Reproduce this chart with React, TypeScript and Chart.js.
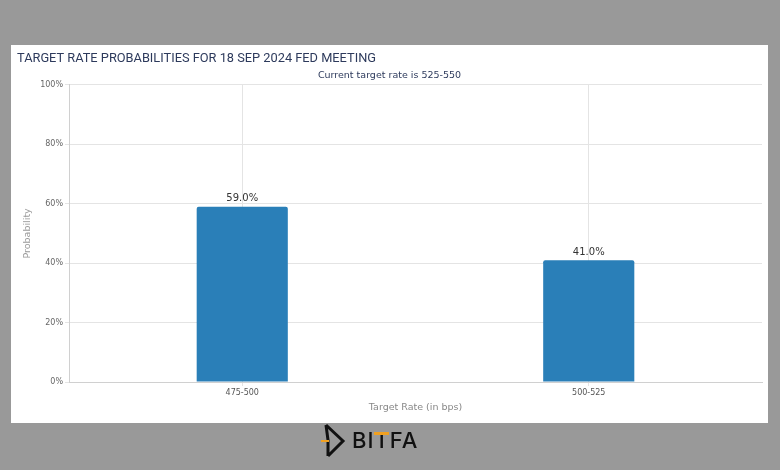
import React, { useEffect, useRef } from "react";
import { Chart, registerables } from "chart.js";

Chart.register(...registerables);

const categories = ["475-500", "500-525"];
const probabilities = [59.0, 41.0];
const yTicks = [0, 20, 40, 60, 80, 100];
const titleText = "TARGET RATE PROBABILITIES FOR 18 SEP 2024 FED MEETING";
const subtitleText = "Current target rate is 525-550";
const xTitle = "Target Rate (in bps)";
const yTitle = "Probability";

const FONT = "'DejaVu Sans', 'Liberation Sans', sans-serif";

const labelPlugin = {
  id: "barLabels",
  afterDatasetsDraw(chart: any) {
    const ctx = chart.ctx;
    const meta = chart.getDatasetMeta(0);
    ctx.save();
    ctx.font = `10px ${FONT}`;
    ctx.fillStyle = "#333333";
    ctx.textAlign = "center";
    ctx.textBaseline = "bottom";
    meta.data.forEach((bar: any, i: number) => {
      const v = chart.data.datasets[0].data[i] as number;
      ctx.fillText(v.toFixed(1) + "%", bar.x, bar.y - 3);
    });
    ctx.restore();
  },
};

export default function App() {
  const ref = useRef<HTMLCanvasElement | null>(null);

  useEffect(() => {
    if (!ref.current) return;
    const chart = new Chart(ref.current, {
      type: "bar",
      data: {
        labels: categories,
        datasets: [
          {
            data: probabilities,
            backgroundColor: "#2a7fb8",
            borderRadius: 2,
            borderSkipped: "bottom",
            barPercentage: 0.263,
            categoryPercentage: 1,
          },
        ],
      },
      options: {
        animation: false,
        responsive: false,
        maintainAspectRatio: false,
        layout: { padding: { left: 6, right: 6, top: 0, bottom: 10 } },
        plugins: {
          legend: { display: false },
          tooltip: { enabled: false },
          title: {
            display: true,
            text: titleText,
            align: "start",
            color: "#2d3a5c",
            font: { family: "Roboto, 'Liberation Sans', sans-serif", size: 12.8, weight: "normal" },
            padding: { top: 6, bottom: 3 },
          },
          subtitle: {
            display: true,
            text: subtitleText,
            color: "#2d3a5c",
            font: { family: FONT, size: 9.5, weight: "normal" },
            padding: { top: 0, bottom: 4 },
          },
        },
        scales: {
          x: {
            grid: {
              offset: false,
              color: "#e4e4e4",
              tickLength: 4,
              drawTicks: true,
            },
            border: { color: "#d0d0d0" },
            ticks: {
              color: "#555555",
              font: { family: FONT, size: 8 },
              padding: 2,
            },
            title: {
              display: true,
              text: xTitle,
              color: "#888888",
              font: { family: FONT, size: 9.5 },
              padding: { top: 2, bottom: 0 },
            },
          },
          y: {
            min: 0,
            max: 100,
            afterFit: (scale: any) => {
              scale.width = 52;
            },
            afterBuildTicks: (scale: any) => {
              scale.ticks = yTicks.map((v) => ({ value: v }));
            },
            grid: { color: "#e4e4e4", tickLength: 4 },
            border: { color: "#d0d0d0" },
            ticks: {
              color: "#666666",
              font: { family: FONT, size: 8 },
              padding: 2,
              callback: (v: any) => v + "%",
            },
            title: {
              display: true,
              text: yTitle,
              color: "#999999",
              font: { family: FONT, size: 9.5 },
              padding: { top: 5, bottom: 2 },
            },
          },
        },
      },
      plugins: [labelPlugin],
    });
    return () => chart.destroy();
  }, []);

  return (
    <div
      style={{
        position: "fixed",
        left: 0,
        top: 0,
        width: 780,
        height: 470,
        background: "#999999",
        overflow: "hidden",
      }}
    >
      <div
        style={{
          position: "absolute",
          left: 11,
          top: 45,
          width: 757,
          height: 378,
          background: "#ffffff",
        }}
      >
        <canvas ref={ref} width={757} height={378} style={{ display: "block" }} />
      </div>
      <svg
        style={{ position: "absolute", left: 318, top: 422 }}
        width={30}
        height={38}
      >
        <path
          d="M8 3 L10 18 L10 34 M8 3 L25 19 L10 34"
          stroke="#111111"
          strokeWidth={3}
          fill="none"
          strokeLinejoin="miter"
        />
        <path d="M3 19 L11 19" stroke="#f0a020" strokeWidth={2} />
      </svg>
      <div
        style={{
          position: "absolute",
          left: 352,
          top: 426,
          fontFamily: "Inter, 'Liberation Sans', sans-serif",
          fontWeight: 500,
          fontSize: 22,
          lineHeight: "28px",
          color: "#111111",
          letterSpacing: 1,
        }}
      >
        BI<span style={{ position: "relative" }}>
          T
          <span
            style={{
              position: "absolute",
              left: 0,
              right: 1,
              top: 5,
              height: 3,
              background: "#f0a020",
            }}
          />
        </span>FA
      </div>
    </div>
  );
}
